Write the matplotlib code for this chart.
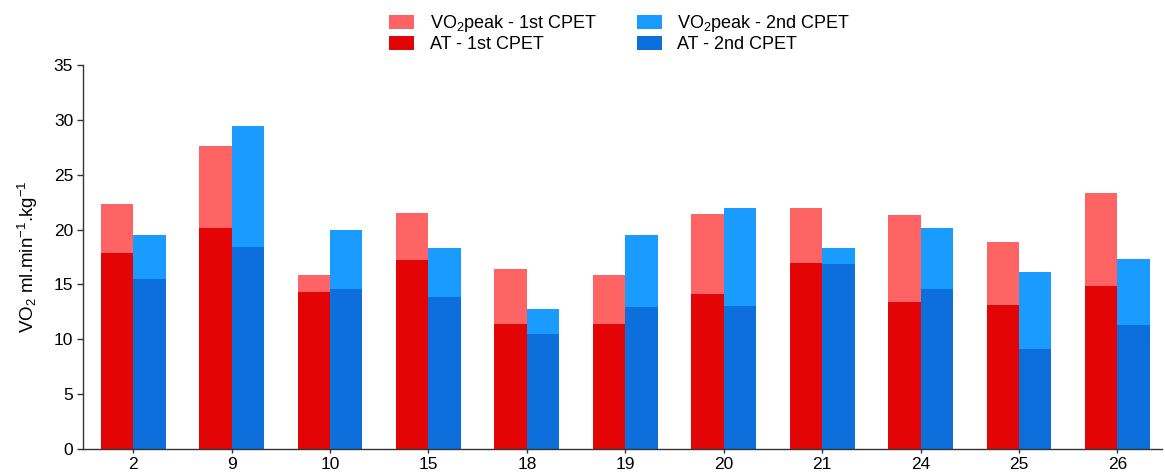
import numpy as np
import matplotlib.pyplot as plt

plt.rcParams["font.family"] = ["Liberation Sans", "DejaVu Sans"]
plt.rcParams["mathtext.fontset"] = "custom"
plt.rcParams["mathtext.rm"] = "Liberation Sans"
plt.rcParams["mathtext.default"] = "regular"

# patient id and VO2 values (ml/min/kg)
patients = ["2", "9", "10", "15", "18", "19", "20", "21", "24", "25", "26"]
peak_1st = [22.3, 27.6, 15.9, 21.5, 16.4, 15.9, 21.4, 22.0, 21.3, 18.9, 23.3]
at_1st = [17.9, 20.1, 14.3, 17.2, 11.4, 11.4, 14.1, 17.0, 13.4, 13.1, 14.9]
peak_2nd = [19.5, 29.4, 20.0, 18.3, 12.8, 19.5, 22.0, 18.3, 20.1, 16.1, 17.3]
at_2nd = [15.5, 18.4, 14.6, 13.9, 10.5, 12.9, 13.0, 16.9, 14.6, 9.1, 11.3]

C_PEAK1, C_AT1 = "#ff6464", "#e30505"
C_PEAK2, C_AT2 = "#1a9bff", "#0d6fdb"

x = np.arange(len(patients))
w = 0.33

fig = plt.figure(figsize=(11.65, 4.75), dpi=100)
ax = fig.add_axes([0.0712, 0.0547, 0.926, 0.8084])

# peak bars drawn first, AT bars overlaid from zero
b1 = ax.bar(x - w / 2, peak_1st, w, color=C_PEAK1, label="VO$_2$peak - 1st CPET")
b2 = ax.bar(x - w / 2, at_1st, w, color=C_AT1, label="AT - 1st CPET")
b3 = ax.bar(x + w / 2, peak_2nd, w, color=C_PEAK2, label="VO$_2$peak - 2nd CPET")
b4 = ax.bar(x + w / 2, at_2nd, w, color=C_AT2, label="AT - 2nd CPET")

ax.set_xlim(-0.51, 10.45)
ax.set_ylim(0, 35)
ax.set_yticks(np.arange(0, 36, 5))
ax.set_xticks(x)
ax.set_xticklabels(patients)
ax.tick_params(axis="both", labelsize=12.5, color="#333333", length=4, width=1, pad=3)
ax.tick_params(axis="x", length=3)
for s in ("top", "right"):
    ax.spines[s].set_visible(False)
for s in ("left", "bottom"):
    ax.spines[s].set_color("#333333")
    ax.spines[s].set_linewidth(1)
ax.set_ylabel("VO$_2$ ml.min$^{-1}$.kg$^{-1}$", fontsize=13.5, labelpad=10)

fig.legend(handles=[b1, b2, b3, b4], loc="upper center", bbox_to_anchor=(0.532, 1.006),
           ncol=2, frameon=False, fontsize=13, handlelength=1.4, handleheight=0.75,
           columnspacing=2.2, labelspacing=0.1, handletextpad=0.85)

fig.savefig("out.png", dpi=100)
